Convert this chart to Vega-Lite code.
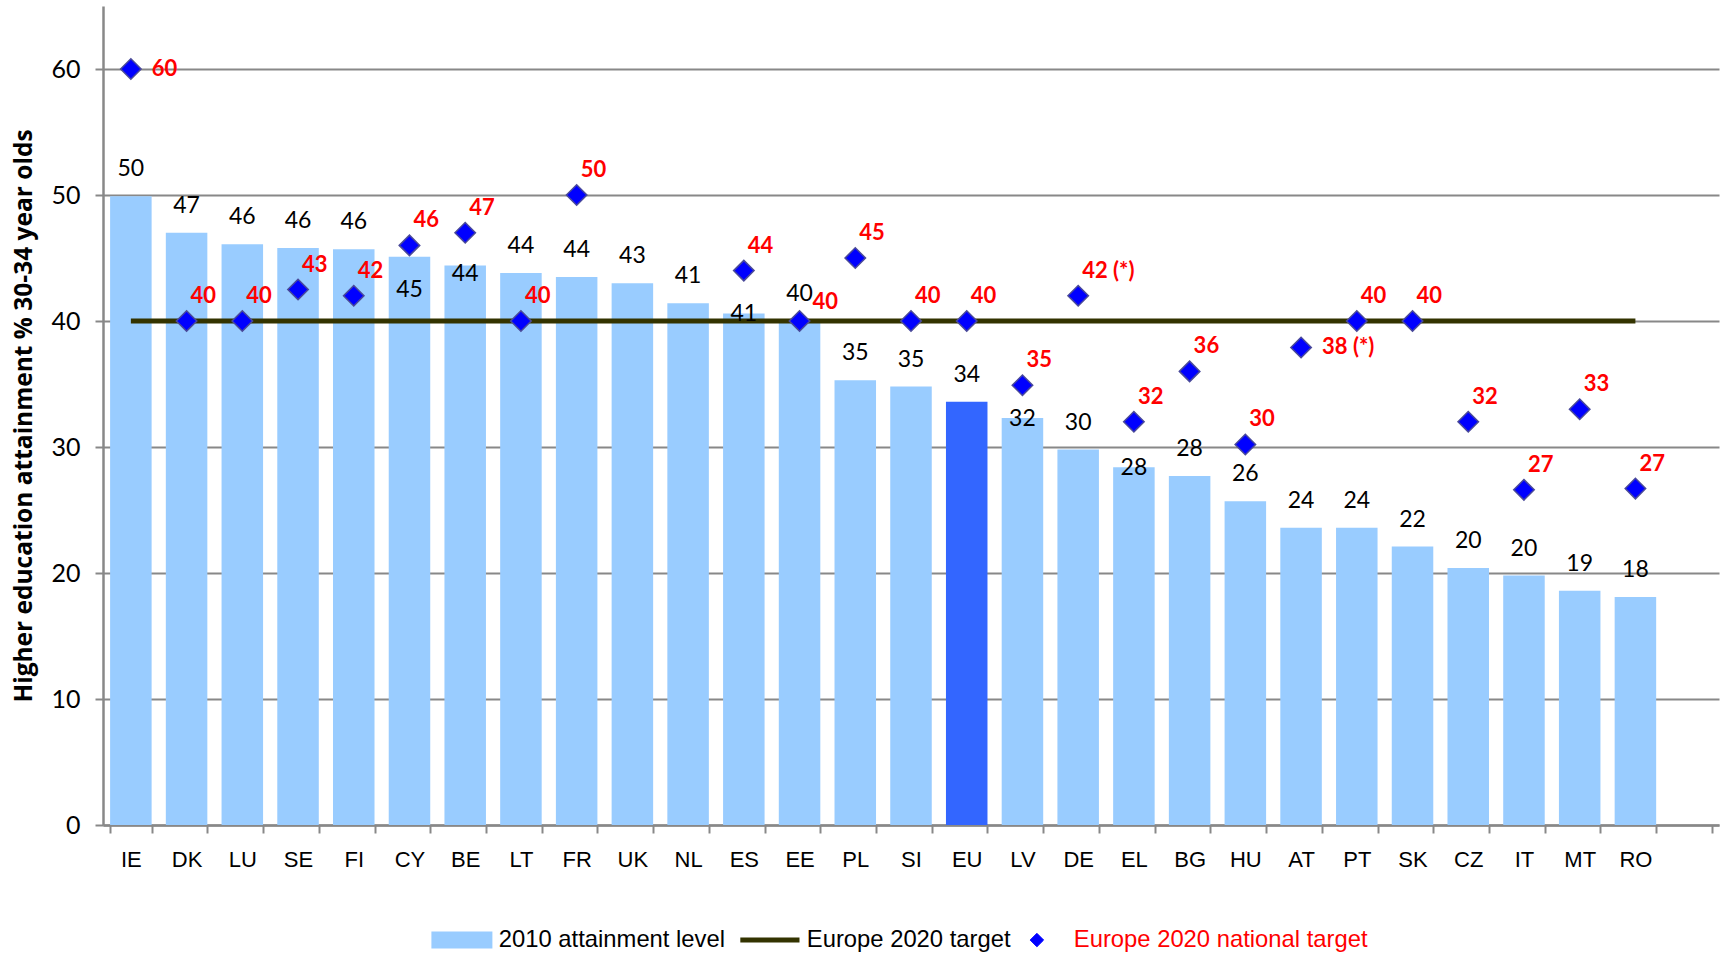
{
  "$schema": "https://vega.github.io/schema/vega-lite/v6.json",
  "autosize": "none",
  "width": 1616,
  "height": 819,
  "padding": {"left": 103, "top": 6, "right": 8, "bottom": 128},
  "background": "white",
  "config": {"view": {"stroke": null}},
  "data": {
    "values": [
      {"country": "IE", "attainment": 49.9, "target": 60, "targetLabel": "60"},
      {"country": "DK", "attainment": 47.0, "target": 40, "targetLabel": "40"},
      {"country": "LU", "attainment": 46.1, "target": 40, "targetLabel": "40"},
      {"country": "SE", "attainment": 45.8, "target": 42.5, "targetLabel": "43"},
      {"country": "FI", "attainment": 45.7, "target": 42, "targetLabel": "42"},
      {"country": "CY", "attainment": 45.1, "target": 46, "targetLabel": "46"},
      {"country": "BE", "attainment": 44.4, "target": 47, "targetLabel": "47"},
      {"country": "LT", "attainment": 43.8, "target": 40, "targetLabel": "40"},
      {"country": "FR", "attainment": 43.5, "target": 50, "targetLabel": "50"},
      {"country": "UK", "attainment": 43.0, "target": null, "targetLabel": null},
      {"country": "NL", "attainment": 41.4, "target": null, "targetLabel": null},
      {"country": "ES", "attainment": 40.6, "target": 44, "targetLabel": "44"},
      {"country": "EE", "attainment": 40.0, "target": 40, "targetLabel": "40"},
      {"country": "PL", "attainment": 35.3, "target": 45, "targetLabel": "45"},
      {"country": "SI", "attainment": 34.8, "target": 40, "targetLabel": "40"},
      {"country": "EU", "attainment": 33.6, "target": 40, "targetLabel": "40"},
      {"country": "LV", "attainment": 32.3, "target": 34.9, "targetLabel": "35"},
      {"country": "DE", "attainment": 29.8, "target": 42, "targetLabel": "42 (*)"},
      {"country": "EL", "attainment": 28.4, "target": 32, "targetLabel": "32"},
      {"country": "BG", "attainment": 27.7, "target": 36, "targetLabel": "36"},
      {"country": "HU", "attainment": 25.7, "target": 30.2, "targetLabel": "30"},
      {"country": "AT", "attainment": 23.6, "target": 37.9, "targetLabel": "38 (*)"},
      {"country": "PT", "attainment": 23.6, "target": 40, "targetLabel": "40"},
      {"country": "SK", "attainment": 22.1, "target": 40, "targetLabel": "40"},
      {"country": "CZ", "attainment": 20.4, "target": 32, "targetLabel": "32"},
      {"country": "IT", "attainment": 19.8, "target": 26.6, "targetLabel": "27"},
      {"country": "MT", "attainment": 18.6, "target": 33, "targetLabel": "33"},
      {"country": "RO", "attainment": 18.1, "target": 26.7, "targetLabel": "27"}
    ]
  },
  "encoding": {
    "x": {
      "field": "country",
      "type": "nominal",
      "sort": null,
      "scale": {
        "domain": ["IE","DK","LU","SE","FI","CY","BE","LT","FR","UK","NL","ES","EE","PL","SI","EU","LV","DE","EL","BG","HU","AT","PT","SK","CZ","IT","MT","RO"," "],
        "paddingInner": 0.255,
        "paddingOuter": 0.1275
      },
      "axis": {
        "title": null,
        "labelAngle": 0,
        "tickBand": "extent",
        "domainColor": "#888888",
        "domainWidth": 2.5,
        "tickColor": "#888888",
        "tickWidth": 2,
        "tickSize": 8,
        "labelFont": "Liberation Sans",
        "labelFontSize": 22,
        "labelColor": "#000000",
        "labelPadding": 16,
        "grid": false
      }
    }
  },
  "layer": [
    {
      "mark": {"type": "bar"},
      "encoding": {
        "y": {
          "field": "attainment",
          "type": "quantitative",
          "scale": {"domain": [0, 65], "nice": false, "zero": true},
          "axis": {
            "values": [0, 10, 20, 30, 40, 50, 60],
            "grid": true,
            "gridColor": "#888888",
            "gridWidth": 2,
            "domainColor": "#888888",
            "domainWidth": 2.5,
            "tickColor": "#888888",
            "tickWidth": 2,
            "tickSize": 8,
            "labelFont": "Lato",
            "labelFontSize": 25,
            "labelColor": "#000000",
            "labelPadding": 15,
            "title": "Higher education attainment % 30-34 year olds",
            "titleFont": "Open Sans",
            "titleFontSize": 24.5,
            "titleFontWeight": "bold",
            "titleColor": "#000000",
            "titleX": -79,
            "titleBaseline": "middle"
          }
        },
        "color": {
          "condition": {"test": "datum.country === 'EU'", "value": "#3366FF"},
          "datum": "2010 attainment level",
          "type": "nominal",
          "scale": {
            "domain": ["2010 attainment level", "Europe 2020 target", "Europe 2020 national target"],
            "range": ["#99CCFF", "#333300", "#0000FF"]
          },
          "legend": {
            "orient": "none",
            "legendX": 347,
            "legendY": 922,
            "direction": "horizontal",
            "title": null,
            "symbolSize": 3721,
            "symbolType": "square",
            "labelFont": "Liberation Sans",
            "labelFontSize": 23.8,
            "labelColor": "#000000",
            "labelOffset": 25,
            "labelLimit": 500,
            "columnPadding": 14,
            "encode": {
              "symbols": {
                "update": {
                  "shape": {"signal": "datum.value === '2010 attainment level' ? 'M-1,-0.28H1V0.28H-1Z' : (datum.value === 'Europe 2020 target' ? 'M-0.97,-0.08H0.97V0.08H-0.97Z' : 'M0,-0.22L0.22,0L0,0.22L-0.22,0Z')"},
                  "fill": {"signal": "datum.value === '2010 attainment level' ? '#99CCFF' : (datum.value === 'Europe 2020 target' ? '#333300' : '#0000FF')"},
                  "stroke": {"signal": "datum.value === 'Europe 2020 national target' ? '#5050A0' : null"},
                  "strokeWidth": {"signal": "datum.value === 'Europe 2020 national target' ? 1 : 0"},
                  "opacity": {"value": 1}
                }
              },
              "labels": {
                "update": {
                  "fill": {"signal": "datum.value === 'Europe 2020 national target' ? '#FF0000' : '#000000'"}
                }
              }
            }
          }
        }
      }
    },
    {
      "mark": {"type": "line", "strokeWidth": 5},
      "encoding": {
        "y": {"datum": 40, "type": "quantitative"},
        "color": {"datum": "Europe 2020 target", "type": "nominal"}
      }
    },
    {
      "mark": {"type": "point", "shape": "diamond", "filled": true, "size": 420, "opacity": 1, "stroke": "#4A4A9A", "strokeWidth": 1.5},
      "encoding": {
        "y": {"field": "target", "type": "quantitative"},
        "color": {"datum": "Europe 2020 national target", "type": "nominal"}
      }
    },
    {
      "transform": [{"filter": "indexof(['ES','LV','EL','BE','CY'], datum.country) < 0"}],
      "mark": {"type": "text", "font": "Lato", "fontSize": 23, "color": "#000000", "dy": -27, "baseline": "middle"},
      "encoding": {
        "y": {"field": "attainment", "type": "quantitative"},
        "text": {"field": "attainment", "type": "quantitative", "format": ".0f"}
      }
    },
    {
      "transform": [{"filter": "indexof(['ES','LV','EL'], datum.country) >= 0"}],
      "mark": {"type": "text", "font": "Lato", "fontSize": 23, "color": "#000000", "dy": 1, "baseline": "middle"},
      "encoding": {
        "y": {"field": "attainment", "type": "quantitative"},
        "text": {"field": "attainment", "type": "quantitative", "format": ".0f"}
      }
    },
    {
      "transform": [{"filter": "datum.country === 'BE'"}],
      "mark": {"type": "text", "font": "Lato", "fontSize": 23, "color": "#000000", "dy": 8, "baseline": "middle"},
      "encoding": {
        "y": {"field": "attainment", "type": "quantitative"},
        "text": {"field": "attainment", "type": "quantitative", "format": ".0f"}
      }
    },
    {
      "transform": [{"filter": "datum.country === 'CY'"}],
      "mark": {"type": "text", "font": "Lato", "fontSize": 23, "color": "#000000", "dy": 33, "baseline": "middle"},
      "encoding": {
        "y": {"field": "attainment", "type": "quantitative"},
        "text": {"field": "attainment", "type": "quantitative", "format": ".0f"}
      }
    },
    {
      "transform": [{"filter": "datum.target != null && indexof(['IE','AT','EE'], datum.country) < 0"}],
      "mark": {"type": "text", "font": "Lato", "fontSize": 22, "fontWeight": "bold", "color": "#FF0000", "align": "left", "baseline": "middle", "dx": 4, "dy": -25},
      "encoding": {
        "y": {"field": "target", "type": "quantitative"},
        "text": {"field": "targetLabel", "type": "nominal"}
      }
    },
    {
      "transform": [{"filter": "datum.country === 'EE'"}],
      "mark": {"type": "text", "font": "Lato", "fontSize": 22, "fontWeight": "bold", "color": "#FF0000", "align": "left", "baseline": "middle", "dx": 13, "dy": -19},
      "encoding": {
        "y": {"field": "target", "type": "quantitative"},
        "text": {"field": "targetLabel", "type": "nominal"}
      }
    },
    {
      "transform": [{"filter": "datum.country === 'IE' || datum.country === 'AT'"}],
      "mark": {"type": "text", "font": "Lato", "fontSize": 22, "fontWeight": "bold", "color": "#FF0000", "align": "left", "baseline": "middle", "dx": 21, "dy": 0},
      "encoding": {
        "y": {"field": "target", "type": "quantitative"},
        "text": {"field": "targetLabel", "type": "nominal"}
      }
    }
  ]
}
